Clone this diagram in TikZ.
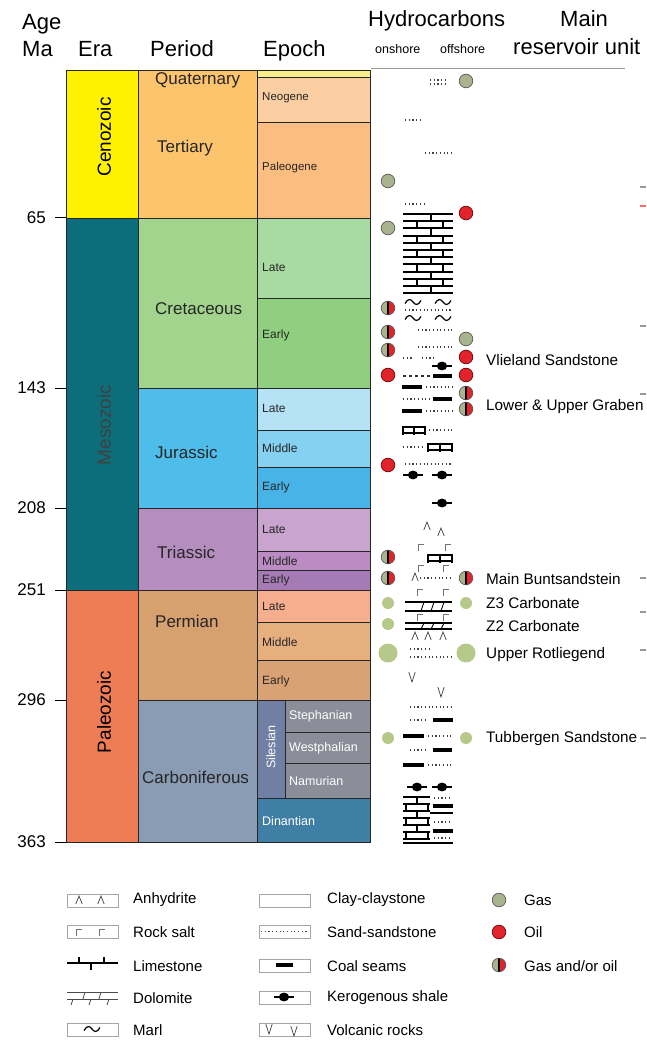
\documentclass[tikz,border=0pt]{standalone}
\usepackage{fontspec}
\setmainfont{Liberation Sans}
\definecolor{cenoz}{HTML}{FFF200}
\definecolor{mesoz}{HTML}{0D6E7B}
\definecolor{paleoz}{HTML}{EE7D55}
\definecolor{tert}{HTML}{FCC46D}
\definecolor{quatE}{HTML}{F8EE86}
\definecolor{neog}{HTML}{FBCFA2}
\definecolor{paleog}{HTML}{FCBD80}
\definecolor{cret}{HTML}{A2D48E}
\definecolor{lateK}{HTML}{A8DBA2}
\definecolor{earlyK}{HTML}{8FCF7F}
\definecolor{jur}{HTML}{4FBDEA}
\definecolor{lateJ}{HTML}{B5E2F5}
\definecolor{midJ}{HTML}{84D1F1}
\definecolor{earlyJ}{HTML}{47B3E6}
\definecolor{tri}{HTML}{B58DBF}
\definecolor{lateT}{HTML}{C8A4CF}
\definecolor{midT}{HTML}{BA8CC3}
\definecolor{earlyT}{HTML}{A57AB5}
\definecolor{perm}{HTML}{D6A16F}
\definecolor{lateP}{HTML}{F7AE8E}
\definecolor{midP}{HTML}{E6AF7E}
\definecolor{earlyP}{HTML}{D9A274}
\definecolor{carb}{HTML}{8A9BB4}
\definecolor{siles}{HTML}{717FA4}
\definecolor{namur}{HTML}{8B8D98}
\definecolor{dinan}{HTML}{3F7EA5}
\definecolor{gasc}{HTML}{A9B38D}
\definecolor{oilc}{HTML}{E2232C}
\definecolor{lgasc}{HTML}{B6C98B}
\newcommand\sdots[3]{\draw[sandl] (#1,#3) -- (#2,#3);}
\newcommand\coalb[3]{\fill[black] (#1,#3-2.3) rectangle (#2,#3+2.3);}
\newcommand\ladder[3]{\draw[line width=1.2pt] (#1,#3-3) -- (#2,#3-3) (#1,#3+3) -- (#2,#3+3);
  \draw[line width=1.2pt] (#1,#3-4.5) -- (#1,#3+4.5) ({(#1+#2)/2},#3-4.5) -- ({(#1+#2)/2},#3+4.5) (#2,#3-4.5) -- (#2,#3+4.5);}
\newcommand\dolo[2]{\draw[line width=1.7pt] (405,#1) -- (452,#1) (405,#2) -- (452,#2);
  \draw[line width=0.9pt] (421,#2) -- (424,#1) (431,#2) -- (434,#1) (441,#2) -- (444,#1);}
\begin{document}
\begin{tikzpicture}[x=1pt,y=-1pt,
  cell/.style={draw=black!85, line width=0.8pt},
  hdr/.style={font=\fontsize{22}{26}\selectfont, inner sep=0pt, anchor=base west},
  hsmall/.style={font=\fontsize{12.5}{15}\selectfont, inner sep=0pt, anchor=base west},
  pertxt/.style={font=\fontsize{17}{20}\selectfont, inner sep=0pt, anchor=west, text=black!85},
  eratxt/.style={font=\fontsize{19}{22}\selectfont, inner sep=0pt, rotate=90},
  eptxt/.style={font=\fontsize{12}{14}\selectfont, inner sep=0pt, anchor=west, text=black!85},
  wtxt/.style={font=\fontsize{12.5}{14}\selectfont, inner sep=0pt, anchor=west, text=white},
  agetxt/.style={font=\fontsize{17}{20}\selectfont, inner sep=0pt, anchor=east},
  restxt/.style={font=\fontsize{15.3}{18}\selectfont, inner sep=0pt, anchor=west},
  legtxt/.style={font=\fontsize{15}{18}\selectfont, inner sep=0pt, anchor=west},
  sandl/.style={line width=1.1pt, dash pattern=on 1.1pt off 2.6pt, black!75},
  dashl/.style={line width=1.1pt, dash pattern=on 3pt off 3pt, black!80},
  legbox/.style={draw=black!35, line width=0.8pt},
  hcgas/.pic={\draw[black!65, fill=gasc, line width=0.7pt] (0,0) circle (6.8);},
  hcoil/.pic={\draw[red!45!black, fill=oilc, line width=0.7pt] (0,0) circle (6.8);},
  hcmix/.pic={\fill[gasc] (0,6.8) arc (90:270:6.8) -- cycle;
              \fill[oilc] (0,6.8) arc (90:-90:6.8) -- cycle;
              \draw[line width=1.1pt] (0,-6.8) -- (0,6.8);
              \draw[black!65, line width=0.7pt] (0,0) circle (6.8);},
  hclgas/.pic={\fill[lgasc] (0,0) circle (6);},
  hcbig/.pic={\fill[lgasc] (0,0) circle (9.5);},
  kero/.pic={\draw[line width=2.3pt] (-10,0) -- (10,0); \fill (0,0) ellipse (5.2 and 4.4);},
  anhy/.pic={\draw[line width=0.7pt, black!75] (-3.2,4) -- (0,-4) -- (3.2,4);},
  salt/.pic={\draw[line width=0.7pt, black!55] (0,4) -- (0,-3) -- (6,-3);},
  volc/.pic={\draw[line width=0.7pt, black!75] (-3.2,-5) -- (0,5) -- (3.2,-5);},
  marlp/.pic={\draw[line width=1.2pt] (-8,1.5) .. controls (-5,-4) and (-2,-3) .. (0,0) .. controls (2,3) and (5,4) .. (8,-1.5);}
]
\useasboundingbox (0,0) rectangle (646,1040);
\fill[white] (0,0) rectangle (646,1040);

% ---------- headers
\node[hdr] (hage) at (22,30) {Age};
\node[hdr] (hma) at (22,57) {Ma};
\node[hdr] (hera) at (78,57) {Era};
\node[hdr] (hper) at (150,57) {Period};
\node[hdr] (hepo) at (263,57) {Epoch};
\node[hdr] (hhyd) at (368,27) {Hydrocarbons};
\node[hdr] (hmain) at (560,27) {Main};
\node[hdr] (hres) at (513,55) {reservoir unit};
\node[hsmall] (hon) at (375,54) {onshore};
\node[hsmall] (hoff) at (440,54) {offshore};
\draw[black!40, line width=1pt] (371,69) -- (625,69);

% ---------- era column
\draw[cell, fill=cenoz] (66,70) rectangle (138,218);
\draw[cell, fill=mesoz] (66,218) rectangle (138,590);
\draw[cell, fill=paleoz] (66,590) rectangle (138,842);
% ---------- period column
\draw[cell, fill=tert] (138,70) rectangle (257,218);
\draw[cell, fill=cret] (138,218) rectangle (257,388);
\draw[cell, fill=jur] (138,388) rectangle (257,508);
\draw[cell, fill=tri] (138,508) rectangle (257,590);
\draw[cell, fill=perm] (138,590) rectangle (257,700);
\draw[cell, fill=carb] (138,700) rectangle (257,842);
% ---------- epoch column
\draw[cell, fill=quatE] (257,70) rectangle (370,77);
\draw[cell, fill=neog] (257,77) rectangle (370,122);
\draw[cell, fill=paleog] (257,122) rectangle (370,218);
\draw[cell, fill=lateK] (257,218) rectangle (370,298);
\draw[cell, fill=earlyK] (257,298) rectangle (370,388);
\draw[cell, fill=lateJ] (257,388) rectangle (370,430);
\draw[cell, fill=midJ] (257,430) rectangle (370,467);
\draw[cell, fill=earlyJ] (257,467) rectangle (370,508);
\draw[cell, fill=lateT] (257,508) rectangle (370,551);
\draw[cell, fill=midT] (257,551) rectangle (370,570);
\draw[cell, fill=earlyT] (257,570) rectangle (370,590);
\draw[cell, fill=lateP] (257,590) rectangle (370,622);
\draw[cell, fill=midP] (257,622) rectangle (370,660);
\draw[cell, fill=earlyP] (257,660) rectangle (370,700);
\draw[cell, fill=siles] (257,700) rectangle (285,798);
\draw[cell, fill=namur] (285,700) rectangle (370,732);
\draw[cell, fill=namur] (285,732) rectangle (370,763);
\draw[cell, fill=namur] (285,763) rectangle (370,798);
\draw[cell, fill=dinan] (257,798) rectangle (370,842);

% ---------- era labels
\node[eratxt] (tceno) at (104,137) {Cenozoic};
\node[eratxt, text=black!75] (tmeso) at (104,425) {Mesozoic};
\node[eratxt] (tpaleo) at (104,712) {Paleozoic};
% ---------- period labels
\node[pertxt, anchor=base west] (tquat) at (155,85) {Quaternary};
\node[pertxt] (ttert) at (157,148) {Tertiary};
\node[pertxt] (tcret) at (155,309) {Cretaceous};
\node[pertxt] (tjur) at (155,452) {Jurassic};
\node[pertxt] (ttri) at (157,552) {Triassic};
\node[pertxt] (tperm) at (155,621) {Permian};
\node[pertxt] (tcarb) at (142,777) {Carboniferous};
% ---------- epoch labels
\node[eptxt, font=\fontsize{11.5}{14}\selectfont] (eneo) at (262,98) {Neogene};
\node[eptxt, font=\fontsize{11.5}{14}\selectfont] (epal) at (262,168) {Paleogene};
\node[eptxt] (ek1) at (262,267) {Late};
\node[eptxt] (ek2) at (262,335) {Early};
\node[eptxt] (ej1) at (262,408) {Late};
\node[eptxt] (ej2) at (262,448) {Middle};
\node[eptxt] (ej3) at (262,487) {Early};
\node[eptxt] (et1) at (262,529) {Late};
\node[eptxt] (et2) at (262,561) {Middle};
\node[eptxt] (et3) at (262,580) {Early};
\node[eptxt] (ep1) at (262,606) {Late};
\node[eptxt] (ep2) at (262,642) {Middle};
\node[eptxt] (ep3) at (262,681) {Early};
\node[wtxt] (ecs) at (289,716) {Stephanian};
\node[wtxt] (ecw) at (289,748) {Westphalian};
\node[wtxt] (ecn) at (289,781) {Namurian};
\node[wtxt] (ecd) at (262,821) {Dinantian};
\node[wtxt, anchor=center, rotate=90] (ecsil) at (271,747) {Silesian};

% ---------- ages
\node[agetxt] (a65) at (46,218) {65};
\node[agetxt] (a143) at (46,388) {143};
\node[agetxt] (a208) at (46,508) {208};
\node[agetxt] (a251) at (46,590) {251};
\node[agetxt] (a296) at (46,700) {296};
\node[agetxt] (a363) at (46,842) {363};
\foreach \yy in {218,388,508,590,700,842} {\draw[line width=1pt] (55,\yy) -- (66,\yy);}

% ---------- lithology column
\sdots{430}{447}{80} \sdots{430}{447}{84}
\sdots{405}{423}{120}
\sdots{425}{452}{153}
\sdots{405}{425}{204}
% limestone block
\foreach \i in {0,...,11} {\draw[line width=2pt] (403,214+7.2*\i) -- (453,214+7.2*\i);}
\foreach \i in {0,2,...,10} {\draw[line width=1.4pt] (431,214+7.2*\i) -- (431,221.2+7.2*\i);}
\foreach \i in {1,3,...,9} {\draw[line width=1.4pt] (417,214+7.2*\i) -- (417,221.2+7.2*\i) (443,214+7.2*\i) -- (443,221.2+7.2*\i);}
% marl
\pic at (413,302) {marlp}; \pic at (443,302) {marlp};
\sdots{405}{452}{310}
\pic at (413,318) {marlp}; \pic at (443,318) {marlp};
\sdots{418}{452}{330}
\sdots{418}{452}{347}
\sdots{403}{412}{358} \sdots{422}{436}{358}
\pic at (442,366) {kero};
\draw[dashl] (403,376) -- (430,376); \coalb{433}{452}{376}
\coalb{402}{422}{387} \sdots{426}{452}{387}
\sdots{403}{430}{399} \coalb{433}{452}{399}
\coalb{402}{422}{411} \sdots{426}{452}{411}
\ladder{403}{425}{430} \sdots{429}{452}{430}
\sdots{403}{424}{447} \ladder{428}{452}{447}
\sdots{405}{452}{464}
\pic at (413,475) {kero}; \pic at (442,475) {kero};
\pic at (442,503) {kero};
\pic at (427,526) {anhy}; \pic at (441,532) {anhy};
\pic at (418,547) {salt}; \pic at (445,547) {salt};
\ladder{428}{452}{558}
\pic at (418,568) {salt}; \pic at (443,568) {salt};
\pic at (415,577) {anhy}; \sdots{420}{452}{578}
\pic at (417,592) {salt}; \pic at (443,592) {salt};
\dolo{602}{611}
\pic at (417,617) {salt}; \pic at (443,617) {salt};
\dolo{623}{629}
\pic at (415,636) {anhy}; \pic at (428,636) {anhy}; \pic at (443,636) {anhy};
\sdots{410}{430}{649}
\sdots{410}{452}{657}
\pic at (412,677) {volc}; \pic at (441,692) {volc};
\sdots{410}{452}{707}
\sdots{410}{428}{720} \coalb{433}{453}{720}
\coalb{403}{424}{736} \sdots{428}{452}{736}
\sdots{410}{428}{750} \coalb{433}{452}{750}
\coalb{403}{424}{765} \sdots{428}{452}{765}
\pic at (417,787) {kero}; \pic at (442,787) {kero};
% lower limestone block
\foreach \i in {0,...,6} {\draw[line width=1.8pt] (403,797+7*\i) -- (430,797+7*\i);}
\foreach \i in {0,2,4} {\draw[line width=1.3pt] (417,797+7*\i) -- (417,804+7*\i);}
\foreach \i in {1,3,5} {\draw[line width=1.3pt] (406,797+7*\i) -- (406,804+7*\i) (428,797+7*\i) -- (428,804+7*\i);}
\sdots{434}{452}{798}
\coalb{433}{453}{806}
\draw[line width=1.8pt] (430,813) -- (453,813);
\sdots{434}{452}{822}
\coalb{433}{453}{831}
\sdots{434}{452}{838}
\draw[line width=1.8pt] (403,843) -- (453,843);

% ---------- hydrocarbons
\pic at (466,81) {hcgas};
\pic at (388,181) {hcgas};
\pic at (466,213) {hcoil};
\pic at (388,228) {hcgas};
\pic at (388,308) {hcmix};
\pic at (388,332) {hcmix};
\pic at (388,350) {hcmix};
\pic at (466,339) {hcgas};
\pic at (466,357) {hcoil};
\pic at (388,375) {hcoil};
\pic at (466,375) {hcoil};
\pic at (466,393) {hcmix};
\pic at (466,409) {hcmix};
\pic at (388,465) {hcoil};
\pic at (388,557) {hcmix};
\pic at (388,578) {hcmix};
\pic at (466,578) {hcmix};
\pic at (388,603) {hclgas};
\pic at (466,603) {hclgas};
\pic at (388,624) {hclgas};
\pic at (388,653) {hcbig};
\pic at (466,653) {hcbig};
\pic at (388,738) {hclgas};
\pic at (466,738) {hclgas};

% ---------- reservoir units
\node[restxt] (r1) at (486,360) {Vlieland Sandstone};
\node[restxt] (r2) at (486,407) {Lower \& Upper Graben};
\node[restxt] (r3) at (486,579) {Main Buntsandstein};
\node[restxt] (r4) at (486,603) {Z3 Carbonate};
\node[restxt] (r5) at (486,626) {Z2 Carbonate};
\node[restxt] (r6) at (486,655) {Upper Rotliegend};
\node[restxt] (r7) at (486,739) {Tubbergen Sandstone};
% cut-off marks at the right edge
\foreach \yy in {187,326,394,578,612,650,738} {\draw[black!40, line width=1.2pt] (640,\yy) -- (646,\yy);}
\draw[red!60, line width=1.2pt] (640,206) -- (646,206);

% ---------- legend
\draw[legbox] (67,894) rectangle (118,907);
\pic at (79,900) {anhy}; \pic at (101,900) {anhy};
\node[legtxt] (l1) at (133,900) {Anhydrite};
\draw[legbox] (67,925) rectangle (118,938);
\pic at (76,932) {salt}; \pic at (99,932) {salt};
\node[legtxt] (l2) at (133,932) {Rock salt};
\draw[line width=1.6pt] (67,963) -- (118,963);
\draw[line width=1.3pt] (79,957) -- (79,963) (104,957) -- (104,963) (91,963) -- (91,970);
\node[legtxt] (l3) at (133,966) {Limestone};
\draw[black!70, line width=0.8pt] (67,992) -- (118,992) (67,999) -- (118,999);
\draw[black!70, line width=0.8pt] (83,999) -- (85,992) (99,999) -- (101,992) (71,1005) -- (73,999) (89,1005) -- (91,999) (107,1005) -- (109,999);
\node[legtxt] (l4) at (133,998) {Dolomite};
\draw[legbox] (67,1023) rectangle (118,1036);
\pic at (92,1029) {marlp};
\node[legtxt] (l5) at (133,1030) {Marl};

\draw[legbox] (259,894) rectangle (310,907);
\node[legtxt] (l6) at (327,900) {Clay-claystone};
\draw[legbox] (259,925) rectangle (310,938);
\draw[sandl, line width=0.8pt] (261,931) -- (308,931);
\node[legtxt] (l7) at (327,932) {Sand-sandstone};
\draw[legbox] (259,959) rectangle (310,972);
\coalb{276}{293}{965}
\node[legtxt] (l8) at (327,966) {Coal seams};
\draw[legbox] (259,991) rectangle (310,1004);
\pic at (284,997) {kero};
\node[legtxt] (l9) at (327,998) {Kerogenous shale};
\draw[legbox] (259,1023) rectangle (310,1036);
\pic at (269,1029) {volc}; \pic at (294,1031) {volc};
\node[legtxt] (l10) at (327,1030) {Volcanic rocks};

\pic at (499,900) {hcgas};
\node[legtxt] (l11) at (524,900) {Gas};
\pic at (499,932) {hcoil};
\node[legtxt] (l12) at (524,932) {Oil};
\pic at (499,965) {hcmix};
\node[legtxt] (l13) at (524,966) {Gas and/or oil};
\end{tikzpicture}
\end{document}
